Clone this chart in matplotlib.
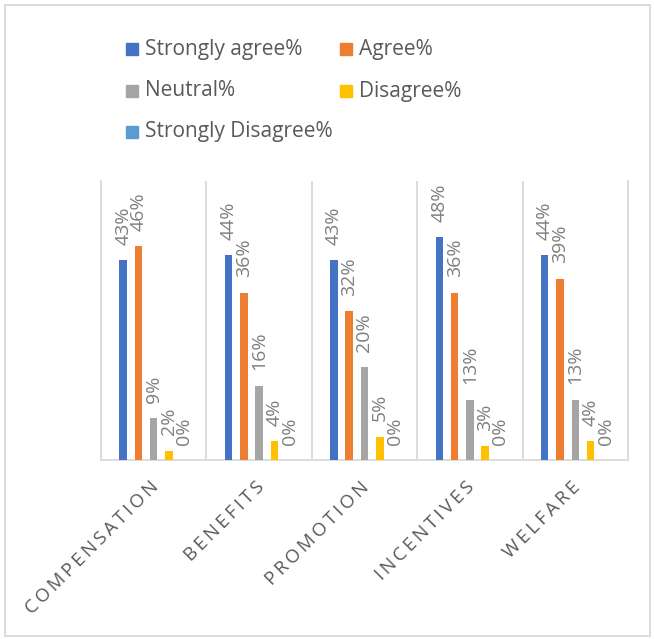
import matplotlib.pyplot as plt
from matplotlib.patches import Rectangle
import numpy as np

plt.rcParams['font.family'] = ['Open Sans', 'DejaVu Sans']

categories = ["COMPENSATION", "BENEFITS", "PROMOTION", "INCENTIVES", "WELFARE"]
series = ["Strongly agree%", "Agree%", "Neutral%", "Disagree%", "Strongly Disagree%"]
strongly_agree = [0.43, 0.44, 0.43, 0.48, 0.44]
agree = [0.46, 0.36, 0.32, 0.36, 0.39]
neutral = [0.09, 0.16, 0.20, 0.13, 0.13]
disagree = [0.02, 0.04, 0.05, 0.03, 0.04]
strongly_disagree = [0.0, 0.0, 0.0, 0.0, 0.0]
values = [strongly_agree, agree, neutral, disagree, strongly_disagree]
colors = ["#4472C4", "#ED7D31", "#A5A5A5", "#FFC000", "#5B9BD5"]

W, H = 654, 639
fig = plt.figure(figsize=(W / 100, H / 100), dpi=100)
ax = fig.add_axes([101 / W, 1 - 460 / H, (628 - 101) / W, (460 - 181) / H])

x = np.arange(len(categories))
step = 0.145
bw = 0.071
for i, (vals, c) in enumerate(zip(values, colors)):
    pos = x + (i - 2) * step
    ax.bar(pos, vals, width=bw, color=c, zorder=3)
    for px, v in zip(pos, vals):
        ax.annotate("{:.0%}".format(v), (px, v), xytext=(0, 11), textcoords="offset points",
                    rotation=90, ha="center", va="bottom", fontsize=14, color="#7F7F7F")

ax.set_xlim(-0.5, len(categories) - 0.5)
ax.set_ylim(0, 0.6)
ax.set_yticks([])
ax.set_xticks(x)
ax.set_xticklabels([])
ax.tick_params(axis="x", length=0)
for b in np.arange(0.5, len(categories) - 0.5):
    ax.axvline(b, color="#D9D9D9", lw=1.3, zorder=1)
ax.spines["top"].set_visible(False)
for s in ["left", "right", "bottom"]:
    ax.spines[s].set_color("#D9D9D9")
    ax.spines[s].set_linewidth(1.3)

# category labels, spaced out like the original
for xi, name in zip(x, categories):
    ax.annotate("\u2009".join(name), (xi, 0), xytext=(-3, -13), textcoords="offset points",
                rotation=45, rotation_mode="anchor", ha="right", va="top",
                fontsize=13.5, color="#595959")

# legend laid out in rows like Excel
col_x = [126, 340]
row_y = [49, 91, 132]
for i, (name, c) in enumerate(zip(series, colors)):
    mx = col_x[i % 2]
    my = row_y[i // 2]
    fig.patches.append(Rectangle((mx / W, 1 - (my + 6) / H), 12 / W, 12 / H,
                                 transform=fig.transFigure, color=c))
    fig.text((mx + 19) / W, 1 - my / H, name, ha="left", va="center",
             fontsize=15, color="#595959")

fig.patches.append(Rectangle((5 / W, 1 - 636 / H), 645 / W, 631 / H, transform=fig.transFigure,
                             fill=False, edgecolor="#D9D9D9", lw=1.3))

plt.savefig("out.png", dpi=100)
